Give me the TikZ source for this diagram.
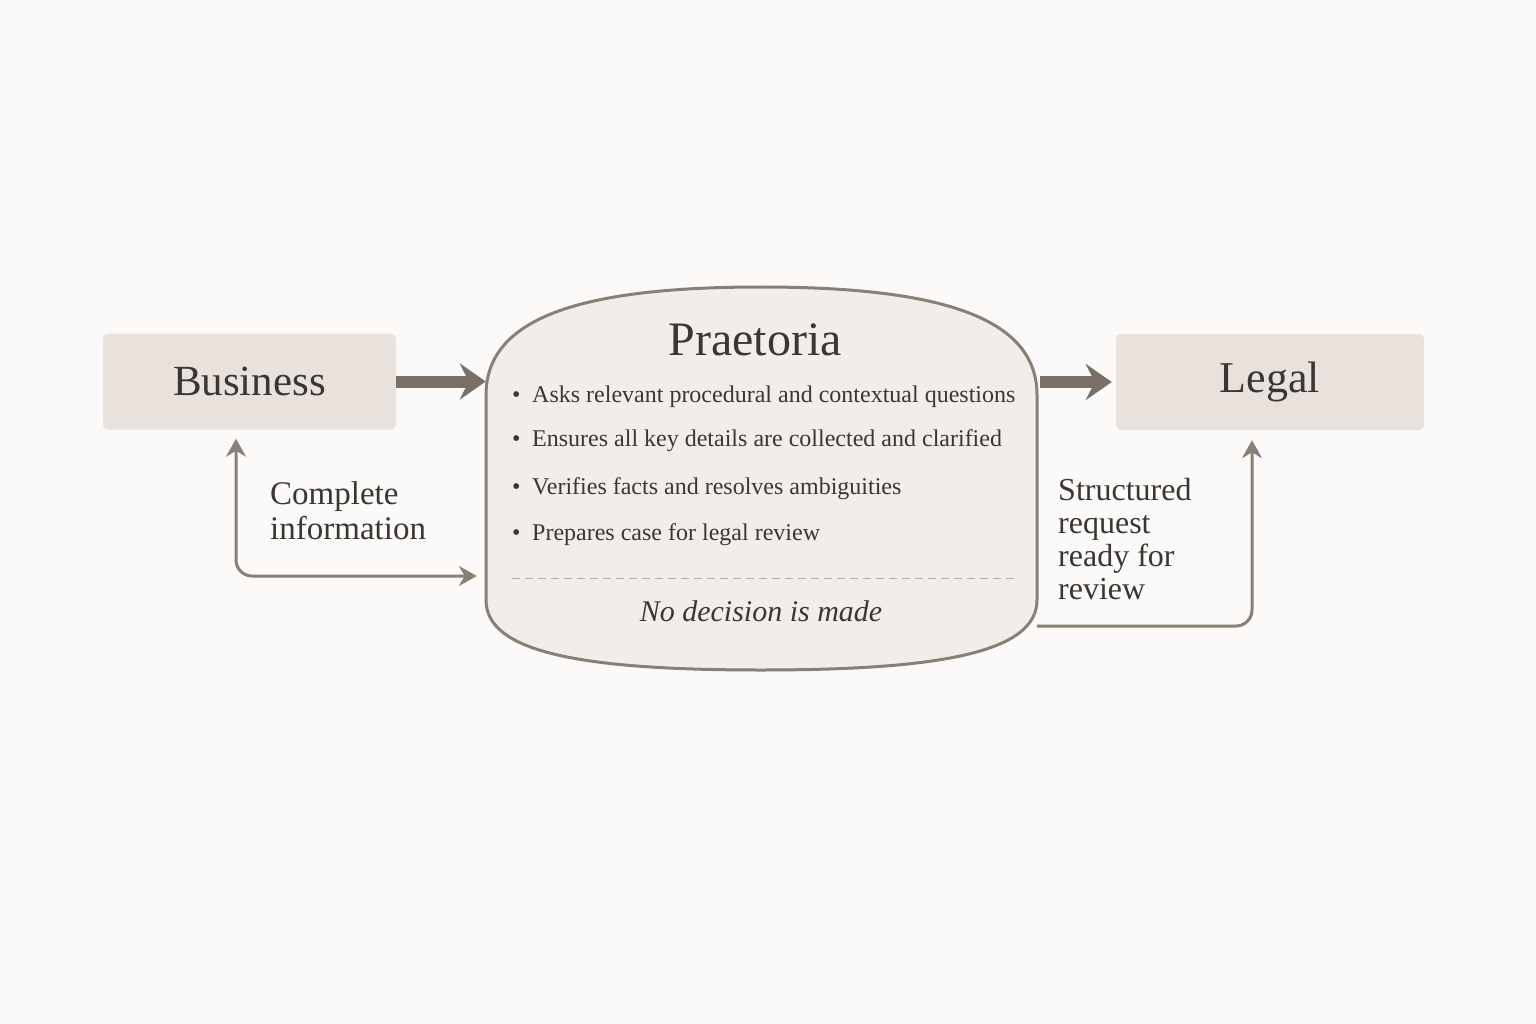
\documentclass[tikz,border=0pt]{standalone}
\usepackage{fontspec}
\setmainfont{Liberation Serif}
\usetikzlibrary{arrows.meta}
\definecolor{boxfill}{HTML}{E9E1DB}
\definecolor{cloudfill}{HTML}{F1EEEA}
\definecolor{edgeline}{HTML}{8A7F74}
\definecolor{flow}{HTML}{7A7068}
\definecolor{ink}{HTML}{3A3633}
\definecolor{paper}{HTML}{FBFAF9}
\definecolor{rule}{HTML}{B5ADA5}

\begin{document}
\begin{tikzpicture}[x=1pt, y=-1pt,
    party/.style={rectangle, fill=boxfill, rounded corners=5pt, minimum height=96pt, text=ink, font=\fontsize{43}{48}\selectfont},
    bigarrow/.style={-{Stealth[length=26pt, width=36pt, inset=9pt]}, line width=12pt, draw=flow},
    thinarrow/.style={line width=3pt, draw=edgeline, rounded corners=16pt},
    note/.style={align=left, text=ink, inner sep=0pt},
    point/.style={anchor=west, text=ink, inner sep=0pt, font=\fontsize{24}{28}\selectfont}
]
\fill[paper] (0,0) rectangle (1536,1024);
\useasboundingbox (0,0) rectangle (1536,1024);

% Nodes
\node[party, minimum width=293pt] (business) at (249.5,381.5) {Business};
\node[party, minimum width=308pt, font=\fontsize{44}{48}\selectfont] (legal) at (1270,382) {Legal};
\node[minimum width=551pt, minimum height=383pt, inner sep=0pt] (praetoria) at (761.5,478.5) {};

% Outgoing request, drawn under the barrel
\draw[thinarrow, -{Stealth[length=18pt, width=20pt, inset=6pt]}, shorten >=10pt]
    (praetoria.east |- 0,626) -| ([xshift=-18pt]legal.south);

% Barrel
\draw[edgeline, line width=3pt, fill=cloudfill]
    (486,600) -- (486,395)
    .. controls (486,318) and (580,287) .. (761,287)
    .. controls (942,287) and (1037,318) .. (1037,395)
    -- (1037,600)
    .. controls (1037,652) and (942,670) .. (761,670)
    .. controls (580,670) and (486,652) .. (486,600) -- cycle;

\node[text=ink, font=\fontsize{48}{52}\selectfont] (title) at (755,340) {Praetoria};
\foreach \y/\txt [count=\i] in {397/Asks relevant procedural and contextual questions,
    441/Ensures all key details are collected and clarified,
    489/Verifies facts and resolves ambiguities,
    535/Prepares case for legal review}
  \node[point] (item\i) at (512,\y) {\makebox[20pt][l]{\textbullet}\txt};
\draw[rule, line width=1pt, dash pattern=on 8pt off 5pt] (512,578) -- (1015,578);
\node[text=ink, font=\itshape\fontsize{30}{34}\selectfont] (nodecision) at (761,611) {No decision is made};

% Arrows
\draw[bigarrow] (business.east) -- (business.east -| praetoria.west);
\draw[bigarrow, shorten <=3pt, shorten >=4pt] (praetoria.east |- legal) -- (legal.west);
\draw[thinarrow, {Stealth[length=18pt, width=20pt, inset=6pt]}-{Stealth[length=18pt, width=20pt, inset=6pt]}, shorten <=9pt, shorten >=9pt]
    ([xshift=-13.5pt]business.south) |- (praetoria.west |- 0,576);

% Labels
\node[note, anchor=north west, font=\fontsize{33}{35}\selectfont] (infolabel) at (270,481) {Complete\\information};
\node[note, anchor=north west, font=\fontsize{32}{33}\selectfont] (requestlabel) at (1058,478) {Structured\\request\\ready for\\review};
\end{tikzpicture}
\end{document}
